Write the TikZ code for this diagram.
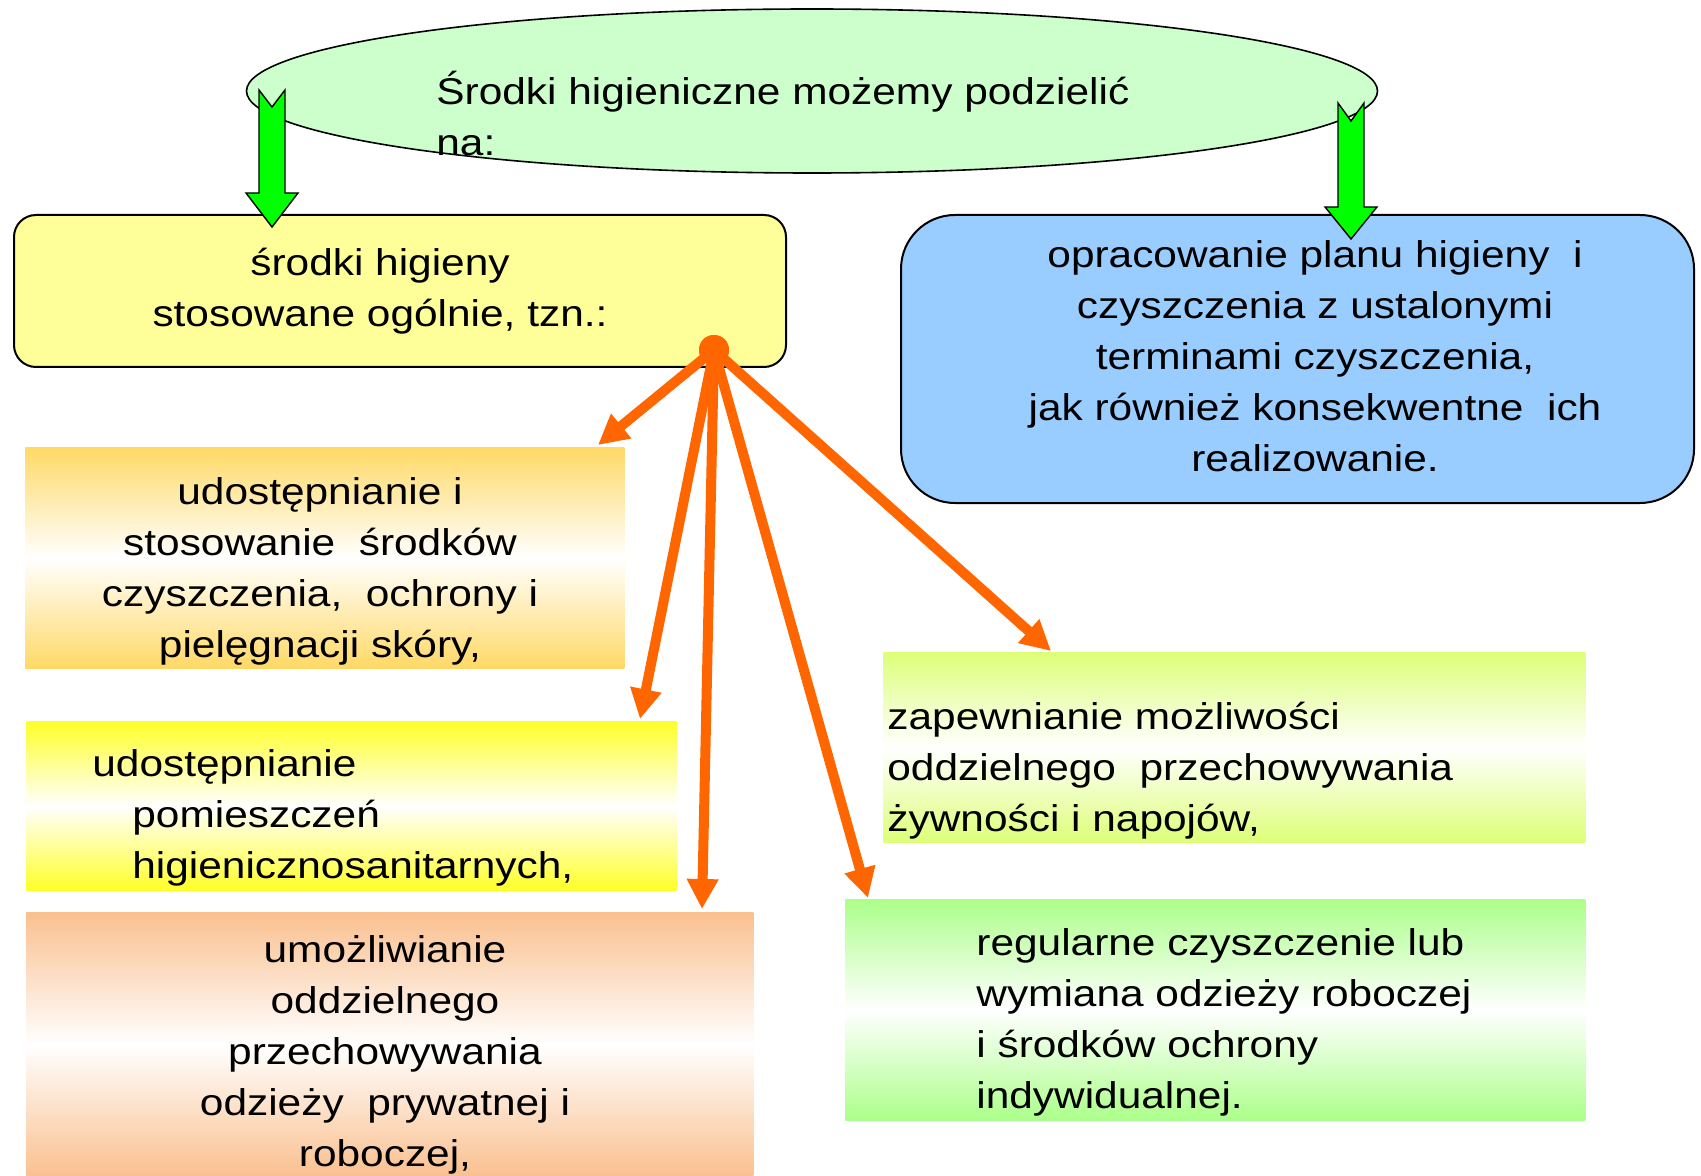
\documentclass[tikz,border=0pt]{standalone}
\usepackage{fontspec}
\setmainfont{Liberation Sans}[FakeStretch=1.14]
\usetikzlibrary{shapes.geometric,arrows.meta}
\definecolor{elgreen}{RGB}{204,255,204}
\definecolor{ybox}{RGB}{255,255,153}
\definecolor{bbox}{RGB}{153,204,255}
\definecolor{arrowgreen}{RGB}{0,255,0}
\definecolor{orangec}{RGB}{255,102,0}
\definecolor{goldc}{RGB}{255,217,102}
\definecolor{yellowc}{RGB}{255,255,40}
\definecolor{salmonc}{RGB}{250,192,143}
\definecolor{limec}{RGB}{221,255,119}
\definecolor{lgreenc}{RGB}{172,255,138}
\newcommand{\ctxt}[1]{\parbox[t]{420pt}{\centering #1}}
\newcommand{\ltxt}[1]{\parbox[t]{420pt}{\raggedright #1}}
\tikzset{
  txt/.style={inner sep=0pt, font=\fontsize{18.6}{25.5}\selectfont},
  gbox/.style={rectangle, inner sep=0pt, anchor=north west},
  oarrow/.style={draw=orangec, line width=5pt, -{Triangle[length=15pt,width=15pt]}},
  garrow/.style={fill=arrowgreen, draw=black, line width=0.7pt, line join=miter},
}
\begin{document}
\begin{tikzpicture}[x=0.5pt,y=-0.5pt]
\useasboundingbox (0,0) rectangle (1701,1176);
% top ellipse
\node[ellipse, draw, line width=0.8pt, fill=elgreen, minimum width=565.5pt, minimum height=82pt, inner sep=0pt] (topel) at (812,91) {};
\node[txt, anchor=base west] (title) at (436,105) {\ltxt{Środki higieniczne możemy podzielić\\na:}};
% upper boxes
\node[gbox, draw, line width=1pt, fill=ybox, rounded corners=11pt, minimum width=386pt, minimum height=76pt] (ybx) at (13,214) {};
\node[gbox, draw, line width=1pt, fill=bbox, rounded corners=27pt, minimum width=396.5pt, minimum height=144pt] (bbx) at (900,214) {};
% green block arrows
\draw[garrow] (259,90) -- (272,107) -- (285,90) -- (285,193) -- (298,193) -- (272,227) -- (246,193) -- (259,193) -- cycle;
\draw[garrow] (1338,103) -- (1351,121) -- (1364,103) -- (1364,207) -- (1377,207) -- (1351,239) -- (1325,207) -- (1338,207) -- cycle;
% lower boxes
\node[gbox, top color=goldc, bottom color=goldc, middle color=white, minimum width=299.5pt, minimum height=110.5pt] (b1) at (25,447) {};
\node[gbox, top color=yellowc, bottom color=yellowc, middle color=white, minimum width=325pt, minimum height=84.5pt] (b2) at (26,721) {};
\node[gbox, top color=salmonc, bottom color=salmonc, middle color=white, minimum width=363.5pt, minimum height=132pt] (b3) at (26,912) {};
\node[gbox, top color=limec, bottom color=limec, middle color=white, minimum width=351pt, minimum height=95pt] (b4) at (883,652) {};
\node[gbox, top color=lgreenc, bottom color=lgreenc, middle color=white, minimum width=370pt, minimum height=110.5pt] (b5) at (845,899) {};
% texts
\node[txt, anchor=base] (ty) at (380,276) {\ctxt{środki higieny\\stosowane ogólnie, tzn.:}};
\node[txt, anchor=base] (tb) at (1315,268) {\ctxt{opracowanie planu higieny~ i\\czyszczenia z ustalonymi\\terminami czyszczenia,\\jak również konsekwentne~ ich\\realizowanie.}};
\node[txt, anchor=base] (t1) at (320,504) {\ctxt{udostępnianie i\\stosowanie~ środków\\czyszczenia,~ ochrony i\\pielęgnacji skóry,}};
\node[txt, anchor=base west] (t2) at (92,776) {\ltxt{udostępnianie\\\hspace*{20pt}pomieszczeń\\\hspace*{20pt}higienicznosanitarnych,}};
\node[txt, anchor=base] (t3) at (385,962) {\ctxt{umożliwianie\\oddzielnego\\przechowywania\\odzieży~ prywatnej i\\roboczej,}};
\node[txt, anchor=base west] (t4) at (887,729) {\ltxt{zapewnianie możliwości\\oddzielnego~ przechowywania\\żywności i napojów,}};
\node[txt, anchor=base west] (t5) at (976,955) {\ltxt{regularne czyszczenie lub\\wymiana odzieży roboczej\\i środków ochrony\\indywidualnej.}};
% orange arrows
\coordinate (e1) at (598,445);
\coordinate (e2) at (640,719);
\coordinate (e3) at (702,909);
\coordinate (e4) at (868,898);
\coordinate (e5) at (1051,651);
\node[circle, fill=orangec, inner sep=0pt, minimum size=15pt] (hub) at (714,350) {};
\foreach \e in {e1,e2,e3,e4,e5} \draw[oarrow] (hub.center) -- (\e);
\node[circle, fill=orangec, inner sep=0pt, minimum size=15pt] at (hub) {};
\end{tikzpicture}
\end{document}
